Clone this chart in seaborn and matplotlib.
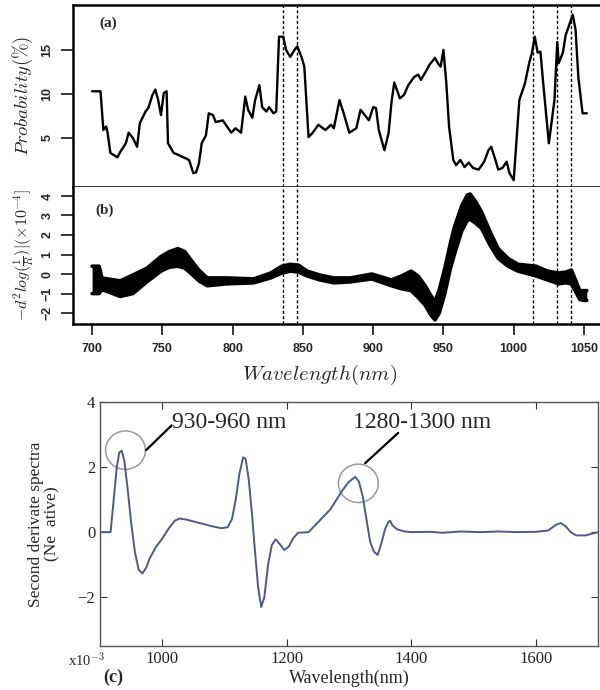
import numpy as np
import pandas as pd
import matplotlib
matplotlib.use('Agg')
import matplotlib.pyplot as plt
import seaborn as sns
from matplotlib.patches import Ellipse

# ---------------- data ----------------
wl_a = [700, 706, 708, 710, 711, 713, 715, 718, 720, 724, 726, 729, 732, 734, 738, 740, 743, 745, 747,
        749, 751, 753, 754, 758, 761, 765, 769, 772, 774, 776, 778, 781, 783, 786, 788, 793, 796, 799,
        802, 806, 809, 811, 814, 816, 819, 821, 824, 826, 829, 831, 833, 836, 838, 841, 844, 846, 849,
        851, 853, 854, 857, 861, 866, 870, 872, 876, 879, 883, 888, 891, 895, 897, 900, 902, 904, 908,
        911, 913, 915, 919, 922, 925, 929, 932, 934, 938, 940, 944, 946, 948, 950, 952, 954, 957, 959,
        962, 965, 968, 971, 975, 979, 982, 984, 987, 989, 992, 995, 997, 1000, 1002, 1004, 1008, 1011,
        1013, 1015, 1017, 1019, 1021, 1025, 1029, 1031, 1032, 1035, 1037, 1039, 1042, 1044, 1046, 1049, 1052]
prob_a = [10.3, 10.3, 5.9, 6.3, 5.6, 3.3, 3.1, 2.8, 3.4, 4.4, 5.6, 5.0, 4.0, 6.7, 8.0, 8.4, 9.9, 10.5, 9.3,
          7.6, 10.1, 10.3, 4.4, 3.3, 3.1, 2.8, 2.5, 1.0, 1.1, 2.1, 4.4, 5.3, 7.8, 7.6, 6.8, 7.0, 6.3, 5.6,
          6.1, 5.6, 9.7, 8.2, 7.3, 9.3, 11.0, 8.5, 8.0, 8.5, 7.8, 8.0, 16.5, 16.5, 15.0, 14.2, 15.0, 15.4, 14.2,
          13.1, 7.8, 5.1, 5.6, 6.5, 5.9, 6.5, 6.1, 9.3, 7.8, 5.6, 6.1, 8.2, 7.4, 7.0, 8.5, 8.4, 5.9, 3.6,
          5.6, 9.0, 11.3, 9.5, 9.9, 11.0, 11.9, 12.2, 11.6, 12.7, 13.3, 14.1, 13.5, 13.1, 15.0, 11.3, 6.3, 2.5, 1.9,
          2.5, 1.7, 2.2, 1.6, 1.4, 2.3, 3.6, 4.0, 2.5, 1.4, 1.6, 2.3, 1.0, 0.2, 4.8, 9.3, 11.2, 13.5,
          14.7, 16.5, 14.7, 14.8, 11.2, 4.4, 9.3, 15.9, 13.5, 14.7, 16.7, 17.6, 19.0, 17.3, 11.9, 7.8, 7.8]

selected_wl = [836, 846, 1014, 1031, 1041]

wl_b = [700, 703, 705, 707, 711, 720, 729, 739, 749, 755, 761, 766, 770, 776, 782, 796, 815, 827, 835,
        841, 847, 853, 862, 872, 884, 899, 913, 920, 927, 932, 937, 941, 944, 947, 951, 955, 958, 963,
        967, 969, 973, 977, 983, 989, 996, 1003, 1016, 1024, 1032, 1037, 1041, 1044, 1047, 1050, 1052]
upper_b = [0.4, 0.4, 0.4, -0.2, -0.25, -0.35, -0.05, 0.3, 0.9, 1.15, 1.3, 1.15, 0.75, 0.2, -0.2, -0.2, -0.25,
           0.05, 0.4, 0.5, 0.45, 0.15, -0.05, -0.2, -0.2, 0.0, -0.3, -0.1, 0.15, -0.1, -0.6, -1.1, -1.4,
           -0.8, 0.3, 1.6, 2.45, 3.5, 4.05, 4.1, 3.7, 3.2, 2.2, 1.3, 0.8, 0.5, 0.4, 0.15, 0.05, 0.1, 0.2,
           -0.3, -0.85, -0.85, -0.85]
lower_b = [-1.0, -1.0, -1.0, -0.8, -0.9, -1.15, -1.0, -0.4, 0.15, 0.35, 0.4, 0.3, 0.05, -0.35, -0.6, -0.5,
           -0.45, -0.2, 0.05, 0.15, 0.1, -0.1, -0.3, -0.45, -0.4, -0.25, -0.6, -0.75, -0.85, -1.2, -1.6,
           -2.1, -2.35, -2.0, -1.0, 0.3, 1.05, 2.2, 2.75, 2.8, 2.6, 2.35, 1.5, 0.8, 0.4, 0.15, -0.1, -0.3,
           -0.5, -0.45, -0.5, -0.9, -1.3, -1.35, -1.35]

wl_c = [900, 917, 922, 927, 931, 935, 939, 944, 950, 956, 962, 968, 974, 980, 990, 1000, 1010, 1020, 1028,
        1040, 1060, 1080, 1095, 1105, 1112, 1118, 1124, 1130, 1134, 1139, 1144, 1149, 1154, 1159, 1164,
        1170, 1176, 1182, 1188, 1196, 1203, 1210, 1218, 1235, 1250, 1270, 1290, 1300, 1310, 1316, 1322,
        1328, 1334, 1340, 1346, 1352, 1358, 1363, 1366, 1370, 1378, 1390, 1400, 1430, 1450, 1480, 1510,
        1540, 1570, 1600, 1620, 1632, 1640, 1648, 1656, 1665, 1680, 1700]
deriv_c = [0.0, 0.0, 1.0, 2.0, 2.45, 2.5, 2.2, 1.4, 0.3, -0.6, -1.15, -1.27, -1.1, -0.8, -0.45, -0.2, 0.1,
           0.35, 0.42, 0.38, 0.28, 0.18, 0.12, 0.15, 0.4, 1.0, 1.8, 2.3, 2.25, 1.6, 0.6, -0.6, -1.7, -2.3,
           -2.0, -1.0, -0.4, -0.22, -0.35, -0.55, -0.45, -0.2, -0.02, 0.0, 0.3, 0.7, 1.3, 1.55, 1.7, 1.55,
           1.1, 0.4, -0.3, -0.6, -0.7, -0.35, 0.1, 0.3, 0.35, 0.2, 0.08, 0.02, 0.0, 0.01, -0.02, 0.02, 0.0,
           0.02, 0.0, 0.01, 0.05, 0.22, 0.28, 0.18, 0.0, -0.1, -0.1, 0.0]

# ---------------- style ----------------
sns.set_style('ticks')
plt.rcParams['mathtext.fontset'] = 'cm'
plt.rcParams['font.family'] = ['Liberation Sans', 'DejaVu Sans']

fig = plt.figure(figsize=(6, 6.9), dpi=100)
W, H = 600.0, 690.0

def box(l, t, r, b):
    return [l / W, 1 - b / H, (r - l) / W, (b - t) / H]

ax_a = fig.add_axes(box(73, 5, 600, 187))
ax_b = fig.add_axes(box(73, 187, 600, 324))
ax_c = fig.add_axes(box(100, 402, 598, 646))

# ---- panel (a)
df_a = pd.DataFrame({'wl': wl_a, 'p': prob_a})
sns.lineplot(data=df_a, x='wl', y='p', ax=ax_a, color='black', lw=1.7)
ax_a.set_xlim(686.4, 1061.4)
ax_a.set_ylim(-0.57, 20.1)
ax_a.set_yticks([5, 10, 15])
ax_a.set_xticks([])
ax_a.set_xlabel('')
ax_a.set_ylabel(r'$Probability(\%)$', fontsize=13.5, labelpad=5)
ax_a.text(0.05, 0.9, '(a)', transform=ax_a.transAxes, family='Liberation Serif',
          fontweight='bold', fontsize=11, va='center')

# ---- panel (b)
df_b = pd.DataFrame({'wl': wl_b, 'up': upper_b, 'lo': lower_b})
ax_b.fill_between(df_b['wl'], df_b['lo'], df_b['up'], color='black', lw=0)
sns.lineplot(data=df_b, x='wl', y='up', ax=ax_b, color='black', lw=2.6)
sns.lineplot(data=df_b, x='wl', y='lo', ax=ax_b, color='black', lw=2.6)
ax_b.set_xlim(686.4, 1061.4)
ax_b.set_ylim(-2.56, 4.46)
ax_b.set_yticks([-2, -1, 0, 1, 2, 3, 4])
ax_b.set_xticks([700, 750, 800, 850, 900, 950, 1000, 1050])
ax_b.set_xlabel('')
ax_b.set_ylabel(r'$-d^2log(\frac{1}{R})|(\times10^{-4}]$', fontsize=11.5, labelpad=3)
ax_b.text(0.043, 0.83, '(b)', transform=ax_b.transAxes, family='Liberation Serif',
          fontweight='bold', fontsize=11, va='center')

for ax in (ax_a, ax_b):
    for x in selected_wl:
        ax.axvline(x, color='black', lw=1.0, ls=(0, (2.2, 1.6)))
    ax.spines['right'].set_visible(False)
    for s in ('left', 'top', 'bottom'):
        ax.spines[s].set_linewidth(1.8)
        ax.spines[s].set_color('black')
    ax.tick_params(axis='y', labelrotation=90, direction='out', length=9, width=1.3,
                   labelsize=9, pad=5)
    ax.tick_params(axis='x', direction='out', length=8, width=1.3, labelsize=9, pad=6)
    for lab in ax.get_yticklabels() + ax.get_xticklabels():
        lab.set_fontweight('bold')
    for lab in ax.get_yticklabels():
        lab.set_va('center')
ax_b.spines['top'].set_visible(False)

fig.text(320 / W, 1 - 375 / H, r'$Wavelength(nm)$', ha='center', va='center', fontsize=15)

# ---- panel (c)
df_c = pd.DataFrame({'wl': wl_c, 'd': deriv_c})
sns.lineplot(data=df_c, x='wl', y='d', ax=ax_c, color='#4b5a8c', lw=1.4)
ax_c.set_xlim(900, 1700)
ax_c.set_ylim(-3.5, 4)
ax_c.set_xticks([1000, 1200, 1400, 1600])
ax_c.set_yticks([-2, 0, 2, 4])
ax_c.set_yticklabels(['\u22122', '0', '2', '4'])
ax_c.tick_params(direction='in', length=5, width=0.8, top=True, right=True,
                 labelsize=12, colors='#333333', labelcolor='#222222')
for lab in ax_c.get_xticklabels() + ax_c.get_yticklabels():
    lab.set_family('Liberation Serif')
for s in ax_c.spines.values():
    s.set_color('#555555')
    s.set_linewidth(1.0)
ax_c.set_xlabel('Wavelength(nm)', family='Liberation Serif', fontsize=13, labelpad=2)
ax_c.set_ylabel('Second derivate spectra\n(Ne  ative)', family='Liberation Serif',
                fontsize=12.5, labelpad=12, linespacing=1.1)

# annotations
ax_c.add_patch(Ellipse((941, 2.52), 64, 1.18, fill=False, ec='#999999', lw=1.1))
ax_c.plot([974, 1015], [2.52, 3.28], color='black', lw=1.6)
ax_c.text(1015, 3.38, '930-960 nm', family='Liberation Serif', fontsize=17, va='center', ha='left')
ax_c.add_patch(Ellipse((1315, 1.5), 64, 1.18, fill=False, ec='#999999', lw=1.1))
ax_c.plot([1326, 1379], [2.12, 3.05], color='black', lw=1.6)
ax_c.text(1418, 3.38, '1280-1300 nm', family='Liberation Serif', fontsize=17, va='center', ha='center')

fig.text(68 / W, 1 - 660 / H, r'x10$^{-3}$', family='Liberation Serif', fontsize=10.5,
         ha='left', va='center')
fig.text(103 / W, 1 - 677 / H, '(c)', family='Liberation Serif', fontweight='bold',
         fontsize=13, ha='left', va='center')

fig.savefig('out.png', dpi=100)
